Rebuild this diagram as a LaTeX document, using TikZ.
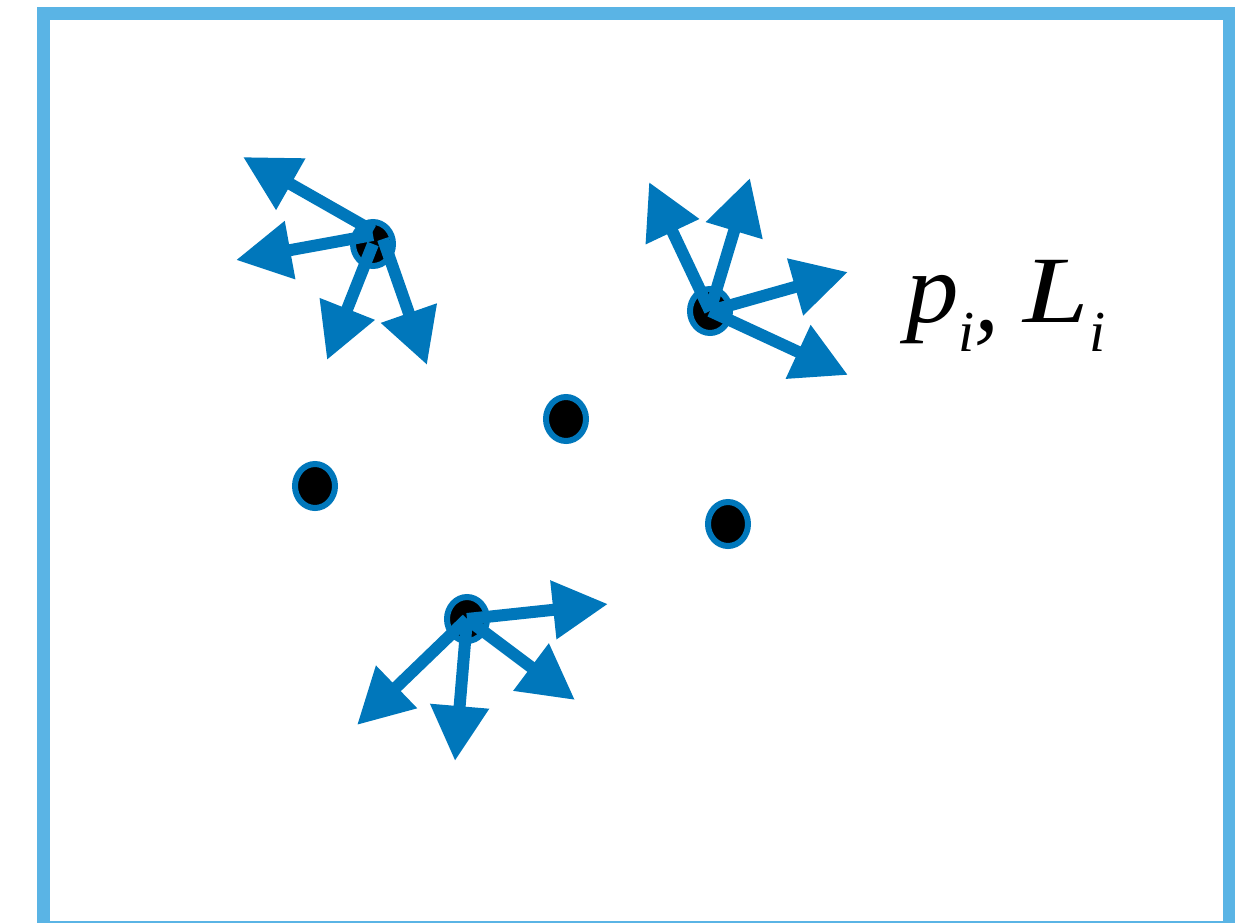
\documentclass[tikz,border=0pt]{standalone}
\usepackage{fontspec}
\setmainfont{Liberation Serif}
\usetikzlibrary{arrows.meta,shapes.geometric}
\definecolor{framecol}{HTML}{5AB4E5}
\definecolor{arrcol}{HTML}{0077BB}
\newcommand{\subi}{\raisebox{-29pt}{\fontsize{58}{58}\selectfont i}}
\begin{document}
\begin{tikzpicture}[x=1pt,y=-1pt,
  pt/.style={ellipse,draw=arrcol,fill=black,line width=6pt,minimum width=40pt,minimum height=44pt,inner sep=0pt},
  vec/.style={draw=arrcol,line width=12pt,-{Triangle[length=55pt,width=56pt]},arrcol}]
\useasboundingbox (0,0) rectangle (1235,922);
\draw[framecol,line width=13pt] (43.5,13) rectangle (1229.5,927);
% points
\node[pt] (A) at (373,244) {};
\node[pt] (B) at (710,311) {};
\node[pt] (C) at (566,419) {};
\node[pt] (D) at (315,486) {};
\node[pt] (E) at (728,524) {};
\node[pt] (F) at (467,619) {};
% arrow start points near A
\coordinate (as1) at (373,231);
\coordinate (as2) at (373,235);
\coordinate (as4) at (383,239);
% arrow tips
\coordinate (a1) at (243,157);
\coordinate (a2) at (236,260);
\coordinate (a3) at (327,360);
\coordinate (a4) at (427,365);
\coordinate (b1) at (649,182);
\coordinate (b2) at (750,178);
\coordinate (b3) at (848,272);
\coordinate (b4) at (848,375);
\coordinate (f1) at (608,604);
\coordinate (f2) at (575,700);
\coordinate (f3) at (455,761);
\coordinate (f4) at (357,725);
\draw[vec] (as1) -- (a1);
\draw[vec] (as2) -- (a2);
\draw[vec] (A.center) -- (a3);
\draw[vec] (as4) -- (a4);
\foreach \t in {b1,b2,b3,b4} \draw[vec] (B.center) -- (\t);
\foreach \t in {f1,f2,f3,f4} \draw[vec] (F.center) -- (\t);
\node[anchor=base west,inner sep=0pt,font=\fontsize{100}{100}\selectfont\itshape] (lab) at (906,322)
  {\scalebox{1.05}[1]{p}\subi\raisebox{-8pt}{,}\hspace{0.24em}\scalebox{1.18}[0.95]{L}\subi};
\end{tikzpicture}
\end{document}
